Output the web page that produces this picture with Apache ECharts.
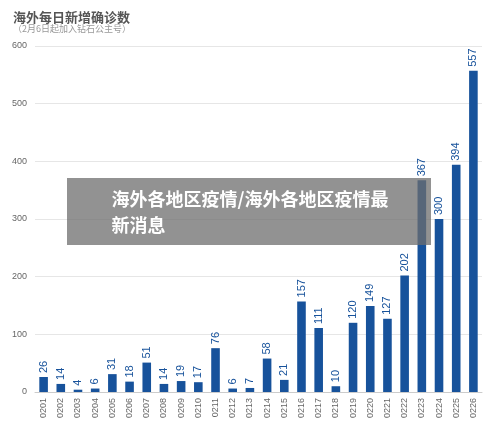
<!DOCTYPE html>
<html><head><meta charset="utf-8">
<script src="https://cdn.jsdelivr.net/npm/echarts@6/dist/echarts.min.js"></script>
<style>body{margin:0;background:#fff}#graph{width:500px;height:428px}</style>
</head><body><div id="graph"></div>
<script>
var days = ['0201','0202','0203','0204','0205','0206','0207','0208','0209','0210','0211','0212','0213',
  '0214','0215','0216','0217','0218','0219','0220','0221','0222','0223','0224','0225','0226'];
var cases = [26,14,4,6,31,18,51,14,19,17,76,6,7,58,21,157,111,10,120,149,127,202,367,300,394,557];
var yTicks = [0,100,200,300,400,500,600];

var chart = echarts.init(document.getElementById('graph'));
chart.setOption({
  animation: false,
  title: {
    text: '海外每日新增确诊数',
    subtext: '（2月6日起加入钻石公主号）',
    left: 8, top: 6, itemGap: 0,
    textStyle: {fontSize: 13, fontWeight: 'bold', color: '#555', fontFamily: 'Noto Sans CJK SC'},
    subtextStyle: {fontSize: 9, color: '#999', fontFamily: 'Noto Sans CJK SC'}
  },
  grid: {left: 35, right: 18, top: 46, bottom: 36},
  xAxis: {
    type: 'category', data: days,
    axisLine: {lineStyle: {color: '#ccc'}}, axisTick: {show: false},
    axisLabel: {rotate: 90, color: '#666', fontSize: 9, interval: 0, margin: 6}
  },
  yAxis: {
    type: 'value', min: yTicks[0], max: yTicks[yTicks.length - 1], interval: 100,
    axisLabel: {color: '#666', fontSize: 9},
    splitLine: {lineStyle: {color: '#e6e6e6'}}
  },
  series: [{
    type: 'bar', data: cases, barWidth: '50%',
    itemStyle: {color: '#17529b'},
    label: {show: true, position: 'top', rotate: 90, align: 'left', verticalAlign: 'middle',
      distance: 4, color: '#17529b', fontSize: 11}
  }],
  graphic: [{
    type: 'rect', left: 67, top: 178, shape: {width: 364, height: 67},
    style: {fill: 'rgba(110,110,110,0.75)'}, z: 100
  }, {
    type: 'text', left: 'center', top: 186, z: 101,
    style: {text: '海外各地区疫情/海外各地区疫情最\n新消息', fill: '#fff', align: 'center',
      font: 'bold 18px "Noto Sans CJK SC"', lineHeight: 26}
  }]
});
</script></body></html>
